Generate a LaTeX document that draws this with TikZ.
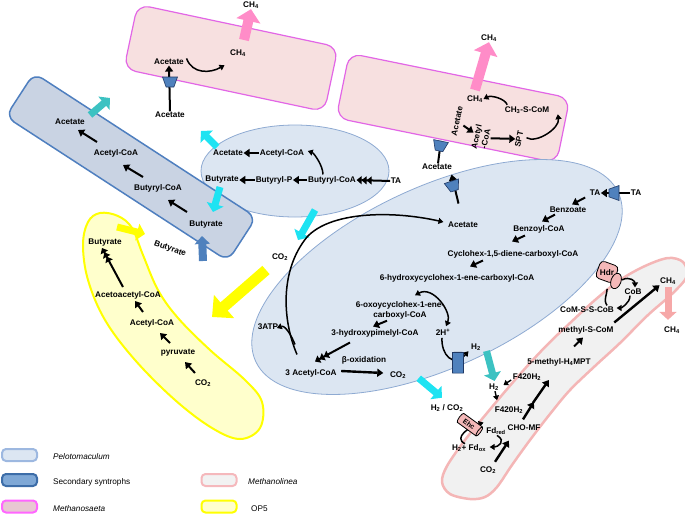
\documentclass[tikz,border=0pt]{standalone}
\usepackage{fontspec}
\setmainfont{Liberation Sans}
\usetikzlibrary{arrows.meta,shapes.geometric,calc}
\definecolor{saetaFill}{HTML}{F7E0E0}
\definecolor{saetaLine}{HTML}{E266E6}
\definecolor{ch4pink}{HTML}{FF8CC8}
\definecolor{secFill}{HTML}{C9D3E3}
\definecolor{secLine}{HTML}{4F7FBF}
\definecolor{peloFill}{HTML}{DCE6F2}
\definecolor{peloLine}{HTML}{8EAAD2}
\definecolor{transFill}{HTML}{4F81BD}
\definecolor{transLine}{HTML}{1F3864}
\definecolor{cyanA}{HTML}{1EE3F2}
\definecolor{tealA}{HTML}{3CC2C2}
\definecolor{steelA}{HTML}{4F81BD}
\definecolor{yelA}{HTML}{FFFF00}
\definecolor{opFill}{HTML}{FFFFCC}
\definecolor{linFill}{HTML}{F1F1F1}
\definecolor{linLine}{HTML}{F4B6B6}
\definecolor{enzFill}{HTML}{F4B8B8}
\definecolor{linPink}{HTML}{F6A8A8}
\definecolor{legPeloLine}{HTML}{9DB8E0}
\definecolor{legSecFill}{HTML}{7FA8D6}
\definecolor{legSecLine}{HTML}{3D6DA8}
\definecolor{legSaetaFill}{HTML}{E8C8D2}
\definecolor{legSaetaLine}{HTML}{FF66FF}
\definecolor{legLinFill}{HTML}{F2F2F2}
\definecolor{legLinLine}{HTML}{F5B8BC}
\tikzset{
  lbl/.style={font=\fontsize{8.2}{9.4}\selectfont\bfseries, inner sep=0.5pt, align=center},
  leg/.style={font=\fontsize{8.2}{9.4}\selectfont, anchor=west, inner sep=0pt},
  rx/.style={line width=2pt, -{Triangle[length=6pt,width=8pt]}},
  rxs/.style={line width=1.4pt, -{Triangle[length=4.5pt,width=6pt]}},
  rx3/.style={line width=2pt, -{Triangle[length=5pt,width=8pt]Triangle[length=5pt,width=8pt]Triangle[length=5pt,width=8pt]}},
  curv/.style={line width=1.5pt, -{Triangle[length=5pt,width=6pt]}},
  curv2/.style={line width=1.5pt, {Triangle[length=5pt,width=6pt]}-{Triangle[length=5pt,width=6pt]}},
  fat/.style={#1, line width=7pt, -{Triangle[length=8pt,width=17pt]}},
  fatb/.style={#1, line width=8pt, -{Triangle[length=8pt,width=15pt]}},
  fatp/.style={#1, line width=10pt, -{Triangle[length=12pt,width=24pt]}},
  fatw/.style={#1, line width=11pt, -{Triangle[length=16pt,width=30pt]}},
  saeta/.style={draw=saetaLine, fill=saetaFill, line width=1.2pt, rounded corners=12pt, inner sep=0pt},
  secbox/.style={draw=secLine, fill=secFill, line width=1.5pt, rounded corners=10pt, inner sep=0pt},
  pelo/.style={draw=peloLine, fill=peloFill, line width=0.8pt, ellipse, inner sep=0pt},
  transp/.style={trapezium, trapezium angle=65, trapezium stretches=true, draw=transLine, fill=transFill, line width=0.6pt, minimum width=15pt, minimum height=10pt, inner sep=1pt},
  legbox/.style={rounded corners=4pt, line width=2pt, minimum width=35pt, minimum height=12pt, inner sep=0pt},
  enz/.style={draw=black, fill=enzFill, line width=0.8pt},
}
\begin{document}
\begin{tikzpicture}[x=1pt,y=-1pt]
\useasboundingbox (0,0) rectangle (685,515);
% ---------- cell outlines ----------
\node[saeta, minimum width=205pt, minimum height=66pt, rotate=-12] (ms1) at (231,58) {};
\node[saeta, minimum width=225pt, minimum height=66pt, rotate=-11.5] (ms2) at (453,108) {};
\draw[draw=linLine, fill=linFill, line width=2.5pt] plot[smooth cycle, tension=0.55] coordinates {(470,499) (450,494) (442,482) (447,466) (465,440) (487,413) (508,388) (530,363) (550,342) (570,323) (595,300) (620,280) (645,266) (668,258) (683,262) (687,276) (673,293) (648,315) (620,343) (595,366) (570,390) (550,414) (530,440) (512,465) (497,487) (485,497)};
\node[pelo, minimum width=400pt, minimum height=180pt, rotate=25] (pe2) at (437,277) {};
\node[pelo, minimum width=188pt, minimum height=92pt] (pe1) at (295,171) {};
\node[secbox, minimum width=265pt, minimum height=52pt, rotate=-33] (sec) at (131,167) {};
\draw[draw=yelA, fill=opFill, line width=2pt] plot[smooth cycle, tension=0.6] coordinates {(100,213) (118,216) (132,228) (143,255) (158,290) (178,318) (210,350) (245,380) (262,402) (260,428) (240,439) (212,428) (175,400) (135,360) (105,320) (88,280) (83,245) (88,222)};
% ---------- Methanosaeta 1 ----------
\node[lbl] (ch4a) at (251,5) {CH\textsubscript{4}};
\node[lbl] (ms1ch4) at (238,53) {CH\textsubscript{4}};
\node[lbl] (ms1ac) at (169,62) {Acetate};
\node[lbl] (ms1acout) at (170,115) {Acetate};
\coordinate (ms1pk) at (244,40);
\draw[fatp=ch4pink] (ms1pk) -- (ch4a.south);
\draw[curv] ($(ms1ac.north east)+(2,0)$) .. controls +(6,16) and +(-14,8) .. ($(ms1ch4.south west)+(-5,8)$);
\draw[rx] (ms1acout.north) -- (ms1ac.south);
\node[transp, rotate=180] (tr1) at (170,82) {};
% ---------- Methanosaeta 2 ----------
\node[lbl] (ch4b) at (489,38) {CH\textsubscript{4}};
\node[lbl] (ms2ch4) at (475,99) {CH\textsubscript{4}};
\node[lbl] (ch3) at (527,110) {CH\textsubscript{3}-S-CoM};
\node[lbl, rotate=77.5] (ms2ac) at (457,121) {Acetate};
\node[lbl, rotate=77.5] (ms2acoa) at (481,138) {Acetyl\\-CoA};
\node[lbl, rotate=77.5] (spt) at (519,139) {SPT};
\coordinate (ms2pk) at (475,90);
\draw[fatp=ch4pink] (ms2pk) -- (ch4b.south);
\draw[curv] ($(ch3.north west)+(3,-1)$) .. controls +(-2,-6) and +(8,-4) .. (ms2ch4.east);
\draw[rx, shorten <=4pt] (ms2ac) -- (ms2acoa);
\draw[rx, shorten <=1pt] (ms2acoa) -- (spt);
\draw[curv] ($(spt.south)+(4,-2)$) .. controls +(10,6) and +(2,14) .. ($(ch3.south east)+(8,0)$);
\node[lbl] (acmid) at (437,167) {Acetate};
\draw[rx] ($(acmid.north)+(1,0)$) -- ($(acmid.north)+(4,-23)$);
\node[transp, rotate=168.5] (tr2) at (440,146) {};
\draw[rx] ($(acmid.south east)+(6,33)$) -- ($(acmid.south east)+(-1,4)$);
\node[transp, rotate=198] (tr3) at (453,186) {};
% ---------- Secondary syntrophs ----------
\node[lbl] (sac) at (70,122) {Acetate};
\node[lbl] (sacoa) at (116,153) {Acetyl-CoA};
\node[lbl] (sbcoa) at (158,188) {Butyryl-CoA};
\node[lbl] (sbut) at (206,225) {Butyrate};
\draw[rx] ($(sacoa)+(-19,-11)$) -- ($(sacoa)+(-38,-23)$);
\draw[rx] ($(sbcoa)+(-15,-11)$) -- ($(sbcoa)+(-35,-23)$);
\draw[rx] ($(sbut)+(-19,-13)$) -- ($(sbut)+(-38,-25)$);
\draw[fat=tealA] ($(sac)+(20,-7)$) -- ($(sac)+(40,-24)$);
\draw[fatb=steelA] ($(sbut)+(-3,36)$) -- ($(sbut)+(-4,11)$);
\node[lbl, rotate=-20] (sbutl) at (170,249) {Butyrate};
% ---------- Pelotomaculum (small) ----------
\node[lbl] (pac) at (228,153) {Acetate};
\node[lbl] (pacoa) at (282,153) {Acetyl-CoA};
\node[lbl] (pbut) at (222,180) {Butyrate};
\node[lbl] (pbp) at (274,180) {Butyryl-P};
\node[lbl] (pbcoa) at (332,180) {Butyryl-CoA};
\node[lbl] (pta) at (396,181) {TA};
\draw[rx] (pacoa.west) -- (pac.east);
\draw[rx] (pbp.west) -- (pbut.east);
\draw[rx] (pbcoa.west) -- (pbp.east);
\draw[rx3] (pta.west) -- (pbcoa.east);
\draw[curv] ($(pbcoa.north)+(-9,-1)$) .. controls +(0,-9) and +(6,2) .. ($(pacoa.east)+(3,-2)$);
\draw[fat=cyanA] ($(pac)+(-11,-6)$) -- ($(pac)+(-27,-22)$);
\draw[fat=cyanA] ($(pbut)+(-2,7)$) -- ($(pbut)+(-9,32)$);
\node[lbl] (co2a) at (280,257) {CO\textsubscript{2}};
\draw[fat=cyanA] ($(co2a)+(35,-47)$) -- ($(co2a)+(18,-17)$);
\draw[fatw=yelA] ($(co2a)+(-14,13)$) -- ($(co2a)+(-68,60)$);
% ---------- OP5 ----------
\node[lbl] (obut) at (105,243) {Butyrate};
\node[lbl] (oaca) at (128,295) {Acetoacetyl-CoA};
\node[lbl] (oacoa) at (152,323) {Acetyl-CoA};
\node[lbl] (opyr) at (178,353) {pyruvate};
\node[lbl] (oco2) at (203,383) {CO\textsubscript{2}};
\draw[fat=yelA] ($(obut)+(12,-16)$) -- ($(obut)+(40,-9)$);
\draw[rx3] ($(oaca)+(-5,-8)$) -- ($(obut)+(-3,5)$);
\draw[rx] ($(oacoa)+(-9,-11)$) -- ($(oacoa)+(-17,-22)$);
\draw[rx] ($(opyr)+(-8,-10)$) -- ($(opyr)+(-18,-20)$);
\draw[rx] ($(oco2)+(-8,-10)$) -- ($(oco2)+(-18,-21)$);
% ---------- Pelotomaculum (large) ----------
\node[lbl] (bta) at (595,193) {TA};
\node[lbl] (btaout) at (636,193) {TA};
\draw[rx] (btaout.west) -- (bta.east);
\node[transp, rotate=90] (tr4) at (614,193) {};
\node[lbl] (benz) at (568,210) {Benzoate};
\node[lbl] (bzcoa) at (539,229) {Benzoyl-CoA};
\node[lbl] (chd) at (513,254) {Cyclohex-1,5-diene-carboxyl-CoA};
\node[lbl] (hyd) at (457,278) {6-hydroxycyclohex-1-ene-carboxyl-CoA};
\node[lbl] (oxo) at (400,310.5) {6-oxoycyclohex-1-ene-\\carboxyl-CoA};
\node[lbl] (twoh) at (443,332) {2H\textsuperscript{+}};
\node[lbl] (hpim) at (375,333) {3-hydroxypimelyl-CoA};
\node[lbl] (atp) at (268,327) {3ATP};
\node[lbl] (boxi) at (364,360) {β-oxidation};
\node[lbl] (acoa3) at (311,373) {3 Acetyl-CoA};
\node[lbl] (co2b) at (398,375) {CO\textsubscript{2}};
\node[lbl] (bac) at (463,225) {Acetate};
\node[lbl] (h2a) at (476,347) {H\textsubscript{2}};
\node[lbl] (h2co2) at (447,408) {H\textsubscript{2} / CO\textsubscript{2}};
\draw[rx] ($(bta.south west)+(-4,1)$) -- ($(benz.north)+(4,-2)$);
\draw[rx] ($(benz.south)+(-13,1)$) -- ($(bzcoa.north)+(3,-3)$);
\draw[rx] ($(bzcoa.south)+(-14,2)$) -- ($(chd.north)+(-1,-8)$);
\draw[rx] ($(chd.south)+(-30,2)$) -- ($(hyd.north)+(13,-7)$);
\draw[curv2] ($(oxo.north)+(15,-6)$) .. controls +(18,-10) and +(6,-14) .. ($(twoh.north)+(3,-2)$);
\draw[rx] ($(oxo.south)+(-13,1)$) -- ($(hpim.north)+(-2,-2)$);
\draw[rx3] ($(hpim.south)+(-25,5)$) -- ($(acoa3.north)+(4,-7)$);
\draw[curv] ($(acoa3.north)+(-14,-14)$) .. controls +(-15,-35) and +(-27,33) .. (307,237) .. controls (330,212) and (390,210) .. ($(bac.west)+(-4,-3)$);
\draw[curv] ($(acoa3.north)+(-16,-24)$) .. controls +(-4,-10) and +(8,-3) .. ($(atp.east)+(-2,1)$);
\draw[rx, line width=2.4pt] ($(acoa3.east)+(4,-2)$) -- ($(co2b.west)+(-6,-2)$);
\draw[curv] ($(twoh.south)+(-1,2)$) .. controls +(-1,17) and +(-15,17) .. ($(h2a.south west)+(-2,0)$);
\node[cylinder, shape border rotate=90, draw=transLine, fill=transFill, line width=0.6pt, minimum width=11pt, minimum height=21pt, aspect=0.45, inner sep=0.5pt] (cyl) at (458,363) {};
\draw[fat=tealA] ($(h2a.east)+(5,4)$) -- ($(h2a.east)+(13,34)$);
\draw[fat=cyanA] ($(co2b.south east)+(12,-1)$) -- ($(h2co2.north)+(-5,-6)$);
% ---------- Methanolinea ----------
\node[lbl] (lh2) at (494,387) {H\textsubscript{2}};
\node[lbl] (lf1) at (527,377) {F420H\textsubscript{2}};
\node[lbl] (lf2) at (509,410) {F420H\textsubscript{2}};
\node[lbl] (choMF) at (524,428) {CHO-MF};
\node[lbl] (fdred) at (496,431) {Fd\textsubscript{red}};
\node[lbl] (h2fd) at (469,448) {H\textsubscript{2}+ Fd\textsubscript{ox}};
\node[lbl] (lco2) at (488,470) {CO\textsubscript{2}};
\node[lbl] (mh4) at (559,362) {5-methyl-H\textsubscript{4}MPT};
\node[lbl] (mscom) at (586,330) {methyl-S-CoM};
\node[lbl] (comss) at (587,310) {CoM-S-S-CoB};
\node[lbl] (cob) at (633,292) {CoB};
\node[lbl] (lch4) at (668,281) {CH\textsubscript{4}};
\node[lbl] (lch4out) at (672,330) {CH\textsubscript{4}};
\draw[curv] ($(h2fd.north)+(-4,0)$) .. controls +(-12,-6) and +(-14,4) .. ($(fdred.north west)+(-2,-4)$);
\node[cylinder, rotate=-36, enz, aspect=0.5, minimum width=11pt, minimum height=26pt, inner sep=0.3pt, font=\fontsize{7}{8}\selectfont\bfseries] (ehc) at (469,424) {Ehc};
\draw[rx, line width=2.4pt] ($(lco2.north)+(7,-4)$) -- ($(choMF.south west)+(2,9)$);
\draw[curv] ($(fdred.south)+(1,0)$) .. controls +(10,6) and +(8,0) .. ($(h2fd.east)+(3,-1)$);
\draw[rx, line width=2.4pt] ($(choMF.north)+(-1,-5)$) -- ($(lf2.east)+(10,-8)$);
\draw[rx, line width=2.4pt] ($(lf2.east)+(9,-7)$) -- ($(lf1.east)+(7,3)$);
\draw[rxs] ($(lf1.west)+(-1,3)$) -- ($(lh2.east)+(4,-2)$);
\draw[rxs] ($(lh2.south)+(1,0)$) -- ($(lh2.south)+(3,9)$);
\draw[rx] ($(mh4.north)+(15,-11)$) -- ($(mscom.south)+(-3,3)$);
\draw[rx, line width=2.4pt] ($(mscom.north east)+(0,-3)$) -- (lch4.south west);
\node[enz, rounded corners=4pt, rotate=-20, minimum width=19pt, minimum height=18pt, inner sep=0pt] (hdrbox) at (607,272) {};
\node[enz, ellipse, rotate=-20, minimum width=10pt, minimum height=16pt, inner sep=0pt] (hdrell) at (616,281) {};
\node[lbl] (hdr) at (607,273) {Hdr};
\draw[curv] ($(hdrell.east)+(1,-3)$) .. controls +(8,-4) and +(0,-6) .. ($(cob.north)+(2,-1)$);
\draw[curv] ($(cob.south)+(-3,0)$) .. controls +(0,8) and +(4,0) .. ($(comss.east)+(2,-2)$);
\draw[line width=1.5pt] ($(comss.north)+(20,-1)$) .. controls +(-4,-6) and +(0,6) .. ($(hdrell.south)+(-6,0)$);
\draw[fat=linPink] ($(lch4.south)+(0,2)$) -- ($(lch4out.north)+(-4,-6)$);
% ---------- legend ----------
\node[legbox, fill=peloFill, draw=legPeloLine] (lg1) at (19.5,455) {};
\node[legbox, fill=legSecFill, draw=legSecLine] (lg2) at (19.5,480) {};
\node[legbox, fill=legSaetaFill, draw=legSaetaLine] (lg3) at (19.5,506.5) {};
\node[legbox, fill=legLinFill, draw=legLinLine] (lg4) at (219,480) {};
\node[legbox, fill=opFill, draw=yelA] (lg5) at (219,506.5) {};
\node[leg] (lt1) at (53,457) {\itshape Pelotomaculum};
\node[leg] (lt2) at (53,482) {Secondary syntrophs};
\node[leg] (lt3) at (53,509) {\itshape Methanosaeta};
\node[leg] (lt4) at (248,482) {\itshape Methanolinea};
\node[leg] (lt5) at (251,509) {OP5};
\end{tikzpicture}
\end{document}
